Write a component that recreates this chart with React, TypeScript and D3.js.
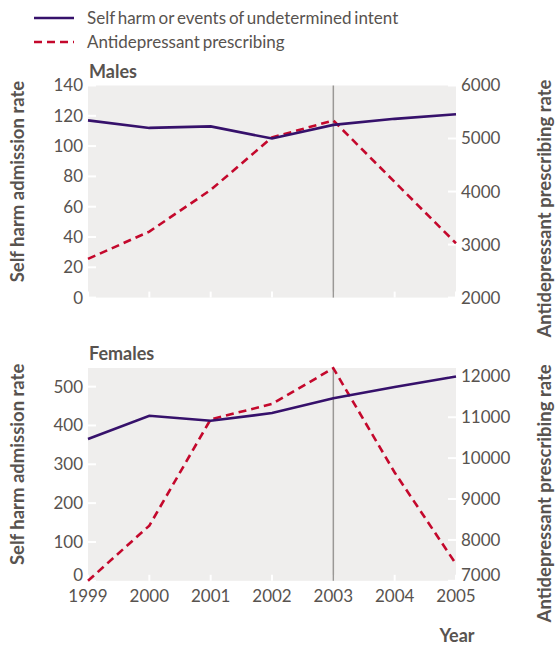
import React from "react";
import * as d3 from "d3";

const years = [1999, 2000, 2001, 2002, 2003, 2004, 2005];
const malesSelfHarm = [117, 112, 113, 105, 114, 118, 121];
const malesAntidep = [2730, 3245, 4030, 5020, 5340, 4180, 3025];
const femalesSelfHarm = [365, 425, 412, 432, 470, 499, 526];
const femalesAntidep = [7000, 8350, 10950, 11325, 12200, 9650, 7410];
const malesLeftTicks = [0, 20, 40, 60, 80, 100, 120, 140];
const malesRightTicks = [2000, 3000, 4000, 5000, 6000];
const femalesLeftTicks = [0, 100, 200, 300, 400, 500];
const femalesRightTicks = [7000, 8000, 9000, 10000, 11000, 12000];
const legendLabels = ["Self harm or events of undetermined intent", "Antidepressant prescribing"];

const W = 555;
const H = 647;
const FONT = "Lato, 'Open Sans', sans-serif";
const TXT = "#58534f";
const PURPLE = "#36116b";
const RED = "#c4082c";
const BG = "#efeeed";

const X0 = 88;
const X1 = 456;
const x = d3.scaleLinear().domain([1999, 2005]).range([X0, X1]);

type PanelProps = {
  title: string;
  top: number;
  bottom: number;
  leftDomain: [number, number];
  rightDomain: [number, number];
  leftTicks: number[];
  rightTicks: number[];
  selfHarm: number[];
  antidep: number[];
  showXLabels: boolean;
};

function Panel(p: PanelProps) {
  const yl = d3.scaleLinear().domain(p.leftDomain).range([p.bottom, p.top]);
  const yr = d3.scaleLinear().domain(p.rightDomain).range([p.bottom, p.top]);
  const lineL = d3.line<number>().x((_, i) => x(years[i])).y((d) => yl(d));
  const lineR = d3.line<number>().x((_, i) => x(years[i])).y((d) => yr(d));
  const mid = (p.top + p.bottom) / 2;
  return (
    <g>
      <rect x={X0} y={p.top} width={X1 - X0} height={p.bottom - p.top} fill={BG} />
      {p.leftTicks.map((t) => (
        <line key={"lt" + t} x1={X0} x2={X0 + 8} y1={yl(t)} y2={yl(t)} stroke="#fff" strokeWidth={2} />
      ))}
      {p.rightTicks.map((t) => (
        <line key={"rt" + t} x1={X1 - 8} x2={X1} y1={yr(t)} y2={yr(t)} stroke="#fff" strokeWidth={2} />
      ))}
      {years.map((yv) => (
        <line key={"xt" + yv} x1={x(yv)} x2={x(yv)} y1={p.bottom} y2={p.bottom - 6} stroke="#fff" strokeWidth={2} />
      ))}
      <line x1={x(2003)} x2={x(2003)} y1={p.top} y2={p.bottom} stroke="#9a9896" strokeWidth={1.5} />
      <path d={lineR(p.antidep) || ""} fill="none" stroke={RED} strokeWidth={2.6} strokeDasharray="8,5" />
      <path d={lineL(p.selfHarm) || ""} fill="none" stroke={PURPLE} strokeWidth={2.6} />
      {p.leftTicks.map((t, i) => (
        <text key={"ll" + t} x={83} y={yl(t) - (i === 0 && p.showXLabels ? 6 : 0)} dy="0.35em" textAnchor="end" fontSize={17} fill={TXT} fontFamily={FONT}>
          {t}
        </text>
      ))}
      {p.rightTicks.map((t, i) => (
        <text key={"rl" + t} x={461} y={yr(t) - (i === 0 && p.showXLabels ? 6 : 0)} dy="0.35em" textAnchor="start" fontSize={17} fill={TXT} fontFamily={FONT}>
          {t}
        </text>
      ))}
      {p.showXLabels &&
        years.map((yv) => (
          <text key={"xl" + yv} x={x(yv)} y={602} textAnchor="middle" fontSize={17} fill={TXT} fontFamily={FONT}>
            {yv}
          </text>
        ))}
      <text x={X0 + 1} y={p.top - 8} fontSize={18} fontWeight="bold" fill={TXT} fontFamily={FONT}>
        {p.title}
      </text>
      <text transform={`translate(24,${mid - 10}) rotate(-90)`} textAnchor="middle" fontSize={18.5} fontWeight="bold" fill={TXT} fontFamily={FONT}>
        Self harm admission rate
      </text>
      <text transform={`translate(551,${mid + (p.showXLabels ? 19 : 17)}) rotate(-90)`} textAnchor="middle" fontSize={18.5} fontWeight="bold" fill={TXT} fontFamily={FONT}>
        Antidepressant prescribing rate
      </text>
    </g>
  );
}

export default function App() {
  return (
    <svg width={W} height={H} style={{ position: "absolute", left: 0, top: 0 }}>
      <rect width={W} height={H} fill="#fff" />
      <line x1={34} x2={74} y1={18} y2={18} stroke={PURPLE} strokeWidth={2.6} />
      <line x1={34} x2={74} y1={42} y2={42} stroke={RED} strokeWidth={2.6} strokeDasharray="8,5" />
      <text x={87} y={18} dy="0.35em" fontSize={17} wordSpacing={-1.5} fill={TXT} fontFamily={FONT}>
        {legendLabels[0]}
      </text>
      <text x={87} y={42} dy="0.35em" fontSize={17} wordSpacing={-1.5} fill={TXT} fontFamily={FONT}>
        {legendLabels[1]}
      </text>
      <Panel
        title="Males"
        top={85.5}
        bottom={297.6}
        leftDomain={[0, 140]}
        rightDomain={[2000, 6000]}
        leftTicks={malesLeftTicks}
        rightTicks={malesRightTicks}
        selfHarm={malesSelfHarm}
        antidep={malesAntidep}
        showXLabels={false}
      />
      <Panel
        title="Females"
        top={368}
        bottom={580.8}
        leftDomain={[0, 548]}
        rightDomain={[7000, 12205]}
        leftTicks={femalesLeftTicks}
        rightTicks={femalesRightTicks}
        selfHarm={femalesSelfHarm}
        antidep={femalesAntidep}
        showXLabels={true}
      />
      <text x={457} y={642} textAnchor="middle" fontSize={18} fontWeight="bold" fill={TXT} fontFamily={FONT}>
        Year
      </text>
    </svg>
  );
}
